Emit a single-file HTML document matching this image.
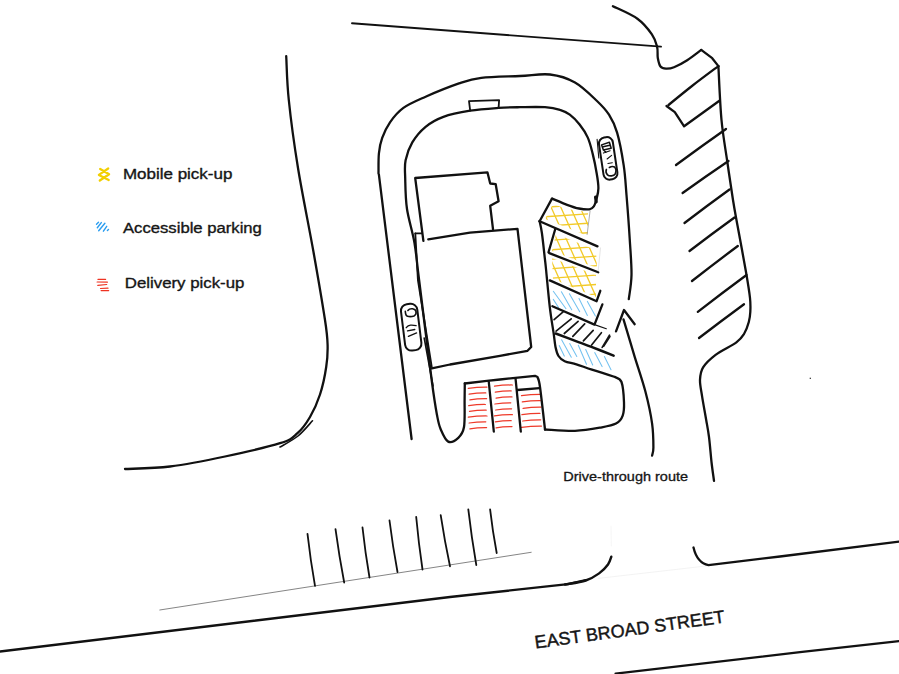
<!DOCTYPE html>
<html><head><meta charset="utf-8"><style>
html,body{margin:0;padding:0;background:#fff;}
body{width:899px;height:674px;overflow:hidden;position:relative;}
svg{position:absolute;left:0;top:0;}
</style></head><body>
<svg width="899" height="674" viewBox="0 0 899 674" fill="none" stroke-linecap="round" stroke-linejoin="round">
<defs><clipPath id="cy0"><path d="M553.0,204.0 L567.0,209.0 L588.0,212.0 L588.0,236.0 L545.0,219.0 Z"/></clipPath><clipPath id="cy1"><path d="M556.0,234.0 L596.0,250.0 L597.0,268.0 L552.0,251.0 Z"/></clipPath><clipPath id="cy2"><path d="M552.0,258.0 L596.0,275.0 L596.0,297.0 L553.0,279.0 Z"/></clipPath></defs>
<g clip-path="url(#cy0)" opacity="0.95"><path d="M595.0,175.8 L618.4,228.4 M586.9,179.4 L610.4,232.0 M578.9,183.0 L602.3,235.6 M570.9,186.5 L594.3,239.2 M562.8,190.1 L586.3,242.7 M554.8,193.7 L578.2,246.3 M546.7,197.3 L570.2,249.9 M538.7,200.8 L562.1,253.5 M530.7,204.4 L554.1,257.0 M522.6,208.0 L546.1,260.6 M514.6,211.6 L538.0,264.2" stroke="#F2C81E" stroke-width="1.30"/><path d="M534.8,179.4 L592.2,175.3 M535.5,188.8 L592.9,184.8 M536.1,198.3 L593.6,194.3 M536.8,207.8 L594.2,203.8 M537.4,217.3 L594.9,213.3 M538.1,226.7 L595.6,222.7 M538.8,236.2 L596.2,232.2 M539.4,245.7 L596.9,241.7 M540.1,255.2 L597.5,251.2 M540.8,264.7 L598.2,260.6 M541.4,274.1 L598.9,270.1" stroke="#F2C81E" stroke-width="1.30"/></g>
<g clip-path="url(#cy1)" opacity="0.95"><path d="M600.0,206.6 L624.6,261.8 M592.0,210.2 L616.5,265.3 M583.9,213.7 L608.5,268.9 M575.9,217.3 L600.5,272.5 M567.8,220.9 L592.4,276.1 M559.8,224.5 L584.4,279.7 M551.8,228.1 L576.3,283.2 M543.7,231.6 L568.3,286.8 M535.7,235.2 L560.3,290.4 M527.6,238.8 L552.2,294.0 M519.6,242.4 L544.2,297.6" stroke="#F2C81E" stroke-width="1.30"/><path d="M541.5,212.4 L601.8,208.1 M542.2,221.8 L602.4,217.6 M542.8,231.3 L603.1,227.1 M543.5,240.8 L603.8,236.6 M544.2,250.3 L604.4,246.1 M544.8,259.7 L605.1,255.5 M545.5,269.2 L605.8,265.0 M546.2,278.7 L606.4,274.5 M546.8,288.2 L607.1,284.0 M547.5,297.6 L607.7,293.4 M548.2,307.1 L608.4,302.9" stroke="#F2C81E" stroke-width="1.30"/></g>
<g clip-path="url(#cy2)" opacity="0.95"><path d="M596.6,233.1 L622.1,290.4 M588.6,236.6 L614.1,294.0 M580.5,240.2 L606.1,297.6 M572.5,243.8 L598.0,301.2 M564.4,247.4 L590.0,304.8 M556.4,251.0 L581.9,308.3 M548.4,254.5 L573.9,311.9 M540.3,258.1 L565.9,315.5 M532.3,261.7 L557.8,319.1 M524.2,265.3 L549.8,322.6 M516.2,268.9 L541.8,326.2" stroke="#F2C81E" stroke-width="1.30"/><path d="M540.0,240.8 L602.6,236.5 M540.6,250.3 L603.3,245.9 M541.3,259.8 L603.9,255.4 M541.9,269.3 L604.6,264.9 M542.6,278.7 L605.3,274.4 M543.3,288.2 L605.9,283.8 M543.9,297.7 L606.6,293.3 M544.6,307.2 L607.2,302.8 M545.3,316.6 L607.9,312.3 M545.9,326.1 L608.6,321.7 M546.6,335.6 L609.2,331.2" stroke="#F2C81E" stroke-width="1.30"/></g>
<path d="M553.3,291.3 L566.0,308.7 M561.4,291.7 L571.7,309.7 M569.4,293.7 L579.7,311.7 M579.0,298.4 L587.4,315.4 M587.4,301.4 L595.4,316.0 M553.3,299.4 L558.7,307.7 M559.2,345.6 L564.3,356.1 M561.6,339.7 L571.3,357.3 M569.7,343.6 L576.8,356.5 M578.3,345.2 L586.5,364.3 M585.7,349.5 L592.7,365.0 M594.7,352.6 L602.1,366.6 M604.4,356.5 L611.0,369.7" stroke="#74C2F0" stroke-width="1.05"/>
<path d="M554.1,319.7 L563.1,311.9 M556.1,331.1 L571.2,318.9 M564.3,333.5 L578.1,321.3 M572.8,336.4 L584.7,323.8 M583.4,340.9 L593.2,330.3 M591.6,345.0 L601.4,332.7 M602.2,347.4 L609.5,335.2 M603.6,346.2 L609.9,336.5" stroke="#151515" stroke-width="1.7"/>
<path d="M468.3,388.3 Q477.6,387.0 487.0,387.1 M469.1,394.1 Q477.6,392.8 485.8,392.9 M469.9,399.9 Q477.6,398.6 486.6,398.7 M468.7,405.7 Q477.6,404.4 485.4,404.5 M469.5,411.4 Q477.6,410.1 486.2,410.2 M468.3,417.2 Q477.6,415.9 487.0,416.0 M469.1,423.0 Q477.6,421.7 485.8,421.8 M469.9,428.8 Q477.6,427.5 486.6,427.6 M494.5,386.2 Q503.4,384.9 512.4,385.0 M495.3,392.1 Q503.4,390.8 511.2,390.9 M496.1,398.1 Q503.4,396.8 512.0,396.9 M494.9,404.0 Q503.4,402.7 510.8,402.8 M495.7,410.0 Q503.4,408.7 511.6,408.8 M494.5,415.9 Q503.4,414.6 512.4,414.7 M495.3,421.9 Q503.4,420.6 511.2,420.7 M496.1,427.8 Q503.4,426.5 512.0,426.6 M521.5,395.6 Q531.5,394.3 541.5,394.4 M522.3,401.9 Q531.5,400.6 540.3,400.7 M523.1,408.3 Q531.5,407.0 541.1,407.1 M521.9,414.6 Q531.5,413.3 539.9,413.4 M522.7,421.0 Q531.5,419.7 540.7,419.8 M521.5,427.3 Q531.5,426.0 541.5,426.1" stroke="#EE3A2A" stroke-width="1.25"/>
<path d="M352.0,23.2 L500.0,34.5 L661.0,46.6" stroke="#111" stroke-width="1.9" />
<path d="M612.9,6.2 C617.0,8.3 630.9,14.0 637.4,18.7 C643.9,23.4 648.6,29.6 651.9,34.3 C655.2,39.0 656.1,42.8 657.1,46.7 C658.1,50.7 657.2,54.7 657.8,58.0 C658.4,61.3 659.1,64.7 660.5,66.5 C661.9,68.3 663.8,68.5 666.0,68.6 C668.2,68.7 670.5,68.6 674.0,67.2 C677.5,65.8 682.7,63.1 687.2,60.2 C691.7,57.3 698.9,51.6 701.2,49.9" stroke="#111" stroke-width="2.3" />
<path d="M701.2,49.9 L712.2,58.2 L718.4,66.1" stroke="#111" stroke-width="2.3" />
<path d="M718.4,66.1 C718.9,75.1 720.0,104.2 721.5,120.0 C723.0,135.8 725.3,147.7 727.2,161.0 C729.1,174.3 731.3,189.2 733.0,200.0 C734.7,210.8 735.3,213.5 737.5,225.5 C739.7,237.5 743.9,259.9 746.0,272.0 C748.1,284.1 749.3,291.3 750.0,298.0 C750.7,304.7 750.5,308.0 750.3,312.0 C750.1,316.0 749.8,318.3 748.8,322.0 C747.8,325.7 746.1,330.6 744.0,334.0 C741.9,337.4 741.1,338.9 736.4,342.4 C731.7,345.9 721.1,350.6 715.6,354.8 C710.1,359.0 705.7,363.1 703.1,367.3 C700.5,371.5 700.2,375.0 700.0,379.8 C699.8,384.6 701.1,389.7 702.1,396.4 C703.1,403.1 705.1,413.2 706.2,420.0 C707.4,426.8 708.1,430.0 709.0,437.0 C709.9,444.0 710.7,454.7 711.5,462.0 C712.3,469.3 713.6,477.6 714.0,480.8" stroke="#111" stroke-width="2.3" />
<path d="M718.4,66.1 C714.0,69.4 700.3,79.5 692.0,86.0 C683.7,92.5 672.4,101.8 668.5,105.0" stroke="#111" stroke-width="2.3" />
<path d="M666.5,106.0 L674.8,112.2 L684.1,126.3 L719.4,100.7" stroke="#111" stroke-width="2.3" />
<path d="M726.0,129.0 Q701.8,146.0 676.0,165.0" stroke="#111" stroke-width="2.3" />
<path d="M728.5,161.0 Q706.3,176.0 682.6,193.0" stroke="#111" stroke-width="2.3" />
<path d="M729.5,189.5 Q707.8,205.2 684.5,223.0" stroke="#111" stroke-width="2.3" />
<path d="M734.5,217.5 Q712.8,233.2 689.5,251.0" stroke="#111" stroke-width="2.3" />
<path d="M737.8,246.0 Q715.7,262.5 692.0,281.0" stroke="#111" stroke-width="2.3" />
<path d="M746.5,275.0 Q722.9,292.4 697.8,311.8" stroke="#111" stroke-width="2.3" />
<path d="M744.0,304.2 Q722.3,320.1 699.0,338.0" stroke="#111" stroke-width="2.3" />
<path d="M286.2,56.2 C286.7,63.5 286.8,81.4 288.8,100.0 C290.7,118.6 293.9,142.7 298.0,168.0 C302.1,193.3 309.0,226.7 313.5,252.0 C318.0,277.3 322.6,304.5 325.0,320.0 C327.4,335.5 327.4,337.2 327.6,345.0 C327.8,352.8 327.5,358.8 326.2,367.0 C325.0,375.2 322.7,386.2 320.0,394.5 C317.3,402.8 313.8,410.5 310.0,417.0 C306.2,423.5 302.5,428.9 297.5,433.2 C292.5,437.6 292.1,439.4 280.0,443.2 C267.9,447.1 243.3,452.6 225.0,456.5 C206.7,460.4 186.7,464.4 170.0,466.5 C153.3,468.6 132.5,468.6 125.0,469.0" stroke="#111" stroke-width="2.3" />
<path d="M312.5,420.8 C310.1,423.3 303.4,431.6 298.0,436.0 C292.6,440.4 283.0,445.2 280.0,447.0" stroke="#111" stroke-width="1.6" />
<path d="M378.5,173.5 C378.6,170.2 378.3,159.4 378.9,153.5 C379.5,147.6 380.3,143.1 382.2,137.9 C384.1,132.7 386.5,127.3 390.0,122.3 C393.5,117.3 397.5,112.2 403.4,107.9 C409.3,103.6 416.3,100.8 425.6,96.7 C434.9,92.6 449.7,86.6 459.0,83.4 C468.3,80.2 471.1,79.0 481.3,77.8 C491.5,76.6 508.6,76.5 520.0,76.0 C531.5,75.5 540.8,73.4 550.0,74.5 C559.2,75.6 567.2,78.1 575.0,82.5 C582.8,86.9 591.3,95.6 597.0,101.0 C602.7,106.4 605.6,109.4 609.0,114.7 C612.4,120.0 614.6,124.3 617.1,132.7 C619.6,141.1 622.1,154.9 623.7,165.3 C625.3,175.7 625.5,182.8 626.5,195.0 C627.5,207.2 628.9,225.4 629.7,238.7 C630.5,252.0 631.7,264.9 631.5,275.0 C631.3,285.1 629.2,295.2 628.8,299.2" stroke="#111" stroke-width="2.3" />
<path d="M378.9,174.6 L411.6,439.0" stroke="#111" stroke-width="2.3" />
<path d="M552.0,198.6 C554.5,199.6 562.6,203.2 567.1,204.8 C571.6,206.5 575.3,207.8 579.0,208.5 C582.7,209.2 586.8,209.7 589.3,209.3 C591.8,208.9 592.6,208.0 593.8,206.3 C595.0,204.6 595.7,202.0 596.5,199.0 C597.3,196.0 598.4,192.4 598.4,188.2 C598.4,183.9 597.7,179.2 596.7,173.5 C595.8,167.8 594.2,159.9 592.7,153.9 C591.2,147.9 590.0,142.5 587.8,137.6 C585.6,132.7 582.6,128.3 579.6,124.5 C576.6,120.7 573.1,117.2 569.8,114.7 C566.5,112.2 564.1,111.0 560.0,109.8 C555.9,108.5 551.7,107.6 545.0,107.2 C538.3,106.8 527.7,107.1 520.0,107.2 C512.3,107.3 506.9,107.3 498.6,107.9 C490.3,108.5 479.4,109.2 470.2,110.7 C461.0,112.2 450.8,114.1 443.4,116.8 C436.0,119.5 430.8,122.5 425.6,126.8 C420.4,131.1 415.6,136.8 412.3,142.4 C409.0,148.0 406.8,154.3 405.6,160.2 C404.4,166.1 405.0,169.9 405.2,178.0 C405.4,186.1 405.4,198.2 407.0,209.0 C408.6,219.8 412.5,231.2 414.5,243.0 C416.5,254.8 416.2,257.0 419.1,280.0 C422.0,303.0 428.8,358.5 431.8,381.0 C434.8,403.5 435.5,407.0 437.0,415.0 C438.5,423.0 438.7,424.6 440.6,429.0 C442.5,433.4 445.2,440.1 448.2,441.6 C451.1,443.1 455.7,440.2 458.3,437.8 C460.9,435.4 462.9,433.3 464.0,427.0 C465.1,420.7 464.5,407.2 464.6,400.0 C464.7,392.8 464.8,386.2 464.8,383.5" stroke="#111" stroke-width="2.3" />
<path d="M464.8,383.5 C470.7,382.8 488.3,380.8 500.0,379.5 C511.7,378.2 529.2,376.4 535.0,375.8 L537.5,377  C537.9,378.7 538.8,378.2 540.0,387.0 C541.2,395.8 544.2,422.4 545.0,429.5" stroke="#111" stroke-width="2.3" />
<path d="M545.0,429.5 C550.0,429.7 565.8,431.1 575.0,430.8 C584.2,430.4 593.2,428.8 600.0,427.6 C606.8,426.4 612.2,425.6 616.0,423.6 C619.8,421.6 621.4,419.2 622.7,415.6 C624.0,412.0 624.2,407.8 624.0,402.2 C623.8,396.6 623.0,386.2 621.5,382.0 C620.0,377.8 616.1,377.8 615.0,377.0" stroke="#111" stroke-width="2.3" />
<path d="M615.0,377.0 C611.1,375.8 598.3,371.8 591.9,369.7 C585.5,367.6 580.9,365.7 576.4,364.3 C571.9,362.9 567.7,362.6 564.7,361.2 C561.7,359.8 560.0,358.4 558.5,356.0 C557.0,353.6 556.3,350.9 555.5,347.0 C554.7,343.1 554.5,338.9 553.5,332.3 C552.5,325.7 551.0,317.5 549.8,307.1 C548.6,296.7 546.9,278.1 546.1,270.0 C545.3,261.9 545.5,264.4 544.8,258.2 C544.1,252.0 542.8,239.2 541.9,233.0 C541.0,226.8 540.0,223.2 539.6,221.2" stroke="#111" stroke-width="2.3" />
<path d="M539.6,221.2 L552.0,198.6" stroke="#111" stroke-width="2.3" />
<path d="M488.8,382.0 L493.8,431.5" stroke="#111" stroke-width="2.3" />
<path d="M515.5,378.2 L520.8,431.5" stroke="#111" stroke-width="2.3" />
<path d="M517.5,390.0 L539.5,388.2" stroke="#111" stroke-width="2.3" />
<path d="M423.4,240.9 L415.2,178.0 L487.5,172.4 L490.2,183.5 L495.7,184.2 L498.6,201.3 L490.2,205.8 L493.0,229.2" stroke="#111" stroke-width="2.3" />
<path d="M415.3,233.4 L421.9,233.4" stroke="#111" stroke-width="1.8" />
<path d="M428.3,239.4 L470.0,232.7 L517.5,228.8 L530.0,336.5 L531.2,347.0 L527.5,350.8 L500.0,355.8 L450.0,364.5 L431.8,368.4" stroke="#111" stroke-width="2.3" />
<path d="M415.3,233.4 L417.9,280.0 L431.8,367.1" stroke="#111" stroke-width="1.8" />
<path d="M424.2,338.0 L433.0,386.0" stroke="#111" stroke-width="1.6" />
<path d="M470.2,110.7 L469.0,101.2 L499.1,100.1 L498.6,107.9" stroke="#111" stroke-width="1.8" />
<path d="M539.6,221.2 L597.5,246.4" stroke="#111" stroke-width="2.3" />
<path d="M555.2,229.3 L548.5,252.3" stroke="#111" stroke-width="2.3" />
<path d="M549.3,253.1 L598.2,272.3" stroke="#111" stroke-width="2.3" />
<path d="M549.8,280.4 L596.6,301.2 L600.3,290.8" stroke="#111" stroke-width="2.3" />
<path d="M552.4,306.2 L594.5,324.6 L602.4,304.4" stroke="#111" stroke-width="2.3" />
<path d="M594.5,324.6 L606.3,328.7" stroke="#111" stroke-width="1.2" />
<path d="M555.7,333.5 C559.5,334.9 572.6,339.9 578.5,342.1 C584.4,344.3 584.9,344.4 590.8,346.6 C596.6,348.9 609.8,354.1 613.6,355.6" stroke="#111" stroke-width="2.6" />
<path d="M590.1,210.8 L587.1,234.5" stroke="#999" stroke-width="0.8" />
<path d="M600.5,247.9 L598.2,270.9" stroke="#ddd" stroke-width="0.8" />
<path d="M810.2,378.2 L810.4,378.4" stroke="#333" stroke-width="1.3" />
<path d="M598.3,578.4 L706.8,565.9" stroke="#f0f0f0" stroke-width="0.8" />
<path d="M611.0,526.0 L611.3,546.0" stroke="#f4f4f4" stroke-width="0.8" />
<path d="M595.6,197.2 L596.2,201.8" stroke="#111" stroke-width="3.2" />
<path d="M616.0,331.4 L624.0,310.0 L634.7,324.2" stroke="#111" stroke-width="2.3" />
<path d="M623.5,319.4 C625.4,325.6 631.1,344.8 634.7,356.8 C638.4,368.8 642.5,380.4 645.4,391.5 C648.3,402.6 650.8,414.2 652.1,423.6 C653.4,433.0 653.4,442.3 653.4,447.6 C653.4,452.9 652.3,454.3 652.1,455.6" stroke="#111" stroke-width="2.3" />
<path d="M0.0,651.5 L450.0,597.0 L567.9,584.1 L585.7,580.1" stroke="#111" stroke-width="2.4" />
<path d="M565.0,584.5 C568.5,583.8 580.0,582.4 585.7,580.5 C591.4,578.6 595.4,576.1 599.1,573.4 C602.8,570.7 606.0,567.3 608.0,564.5 C610.0,561.7 610.8,558.0 611.3,556.7" stroke="#111" stroke-width="2.4" />
<path d="M159.8,610.0 L531.2,552.3" stroke="#666" stroke-width="0.8" />
<path d="M693.5,547.5 C695.5,556 700,563.5 708.5,565.1 L780,556.5 L899,541.7" stroke="#111" stroke-width="2.3" />
<path d="M615.6,673.6 L800.0,652.2 L899.0,641.1" stroke="#111" stroke-width="2.3" />
<path d="M307.5,533.8 Q310.4,559.8 315.0,585.8" stroke="#111" stroke-width="1.8" />
<path d="M335.5,529.2 Q339.1,555.9 344.2,582.5" stroke="#111" stroke-width="1.8" />
<path d="M362.5,527.5 Q365.2,552.5 369.5,577.5" stroke="#111" stroke-width="1.8" />
<path d="M389.5,520.5 Q392.7,546.2 397.5,572.0" stroke="#111" stroke-width="1.8" />
<path d="M416.2,517.0 Q418.6,543.2 422.5,569.5" stroke="#111" stroke-width="1.8" />
<path d="M440.7,515.1 Q444.6,540.7 450.0,566.3" stroke="#111" stroke-width="1.8" />
<path d="M468.3,509.3 Q471.5,537.1 476.3,565.0" stroke="#111" stroke-width="1.8" />
<path d="M490.1,509.3 Q492.6,531.1 496.7,553.0" stroke="#111" stroke-width="1.8" />

<path d="M100.2,168.9 L109.1,174.2 L99.8,180.5 M108.2,168.5 L98.9,174.9 L108.7,180" stroke="#F2CF00" stroke-width="2.3" />
<path d="M96.5,224.3 L98.5,222.3 M97.3,227.7 L101.3,222.6 M98.7,230.8 L104.9,223.2 M103.4,231.2 L106.7,226.3 M107.4,230.6 L108.5,229.5" stroke="#2A9DF0" stroke-width="1.4"/>
<path d="M98,279.4 L105.6,279.4 M97.1,282 L107.4,282.2 M97.8,285.4 L106.7,284.5 M100.5,288.5 L108,288.2 M101.1,290.6 L108.7,290.6" stroke="#EE3322" stroke-width="1.2"/>


<g transform="translate(608.2,158.4) rotate(-8.5)">
 <rect x="-7" y="-21.3" width="14" height="42.6" rx="6" ry="6" stroke="#111" stroke-width="2"/>
</g>
<path d="M601.6,144.9 L609.4,142.3 L611.2,148.2 L603.4,150.1 Z M603.1,146.7 L609.7,145.3" stroke="#111" stroke-width="1.5"/>
<path d="M603.4,153.1 L610.1,150.8 M604,150.5 L606,152.5 M607.1,159 L611.6,155.3 M607.9,163.5 L612.3,162.7" stroke="#111" stroke-width="1.1"/>
<path d="M609.4,167.5 C611,166.5 613.1,166.2 614.5,167 C616,168.5 616,172 615.2,174 C613.8,176.2 609.5,176.5 607.5,174.8 C606,173.5 605.8,171 606.4,169.4" stroke="#111" stroke-width="1.6"/>
<path d="M597.1,139.3 L598.8,158" stroke="#111" stroke-width="1.1"/>
<g transform="translate(411.2,327.2) rotate(-7)">
 <rect x="-8.2" y="-23.3" width="16.4" height="46.6" rx="6.5" ry="6.5" stroke="#111" stroke-width="2"/>
</g>
<path d="M405.3,311.4 C405.5,314 406,316 407.5,316.3 C409.5,316.8 412.2,316.6 414,316 C415.8,315 416.4,313.5 416,311.5 C415.5,309.5 414.8,309.2 412.5,308.8 C410.5,308.6 409,309 407.9,310.5" stroke="#111" stroke-width="1.6"/>
<path d="M406.2,327.7 C407.5,326 409,325.3 410.5,325.2 C412.5,325.1 414.5,325.3 416.1,325.6 M407.5,330.8 L414.8,329.5 M408.4,336.4 L416.6,332.9" stroke="#111" stroke-width="1.3"/>


<g font-family="Liberation Sans, sans-serif" fill="#161616" stroke="#161616" stroke-width="0.35">
<text transform="translate(122.9,178.5) scale(1.172,1)" font-size="14.5">Mobile pick-up</text>
<text transform="translate(123,232.7) scale(1.15,1)" font-size="14.5">Accessible parking</text>
<text transform="translate(124.8,288) scale(1.16,1)" font-size="14.5">Delivery pick-up</text>
<text transform="translate(563.3,480.8) scale(1.16,1)" font-size="12.5" stroke-width="0.3">Drive-through route</text>
<text transform="translate(535.5,648.6) rotate(-7.8)" font-size="18" stroke-width="0.45">EAST BROAD STREET</text>
</g>

</svg>

</body></html>
